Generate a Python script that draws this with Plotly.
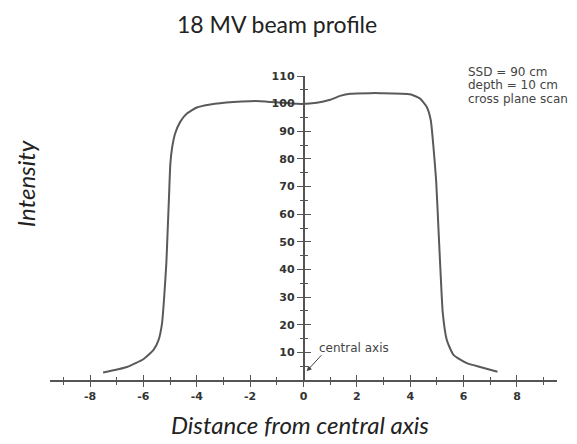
import plotly.graph_objects as go

# Beam profile data (distance in cm, intensity %)
distance = [-7.51, -6.61, -5.99, -5.62, -5.43, -5.30, -5.22, -5.14, -5.09, -5.04,
            -4.99, -4.92, -4.81, -4.62, -4.37, -4.00, -3.49, -2.62, -2.00, -1.62,
            -0.75, -0.06, 0.50, 1.00, 1.37, 1.75, 2.50, 2.87, 4.00, 4.37,
            4.62, 4.77, 4.87, 4.97, 5.06, 5.15, 5.22, 5.37, 5.62, 6.12,
            6.62, 7.27]
intensity = [2.7, 4.7, 7.6, 10.9, 14.5, 20.6, 30.2, 42.2, 54.3, 66.3,
             78.3, 84.3, 89.2, 93.4, 96.4, 98.6, 99.7, 100.6, 100.9, 100.9,
             100.3, 99.9, 100.3, 101.4, 102.8, 103.6, 103.8, 103.8, 103.4, 101.8,
             98.8, 94.0, 84.3, 72.3, 54.3, 36.2, 24.2, 14.5, 9.1, 6.1,
             4.7, 3.0]

x_ticks = [-8, -6, -4, -2, 0, 2, 4, 6, 8]
x_tick_labels = ["-8", "-6", "-4", "-2", "0", "2", "4", "6", "8"]
x_minor = list(range(-9, 10))
y_ticks = [10, 20, 30, 40, 50, 60, 70, 80, 90, 100, 110]
y_minor = [5, 15, 25, 35, 45, 55, 65, 75, 85, 95, 105]
info_lines = ["SSD = 90 cm", "depth = 10 cm", "cross plane scan"]

W, H = 577, 444
ML, MR, MT, MB = 42, 28, 67.6, 71.7
PW, PH = W - ML - MR, H - MT - MB


def px(xp):
    return (xp - ML) / PW


def py(yp):
    return (H - MB - yp) / PH


AX = "#555555"
tickfont = dict(family="DejaVu Sans", size=11, color="#333333", weight="bold")

fig = go.Figure()
fig.add_trace(go.Scatter(x=distance, y=intensity, mode="lines",
                         line=dict(color="#5a5a5a", width=2, shape="spline", smoothing=0.5),
                         showlegend=False, hoverinfo="skip"))
fig.add_trace(go.Scatter(x=[None], y=[None], xaxis="x2", yaxis="y2",
                         showlegend=False, hoverinfo="skip"))

common_x = dict(range=[-9.5, 9.5], showgrid=False, zeroline=False)
common_y = dict(range=[0, 110], showgrid=False, zeroline=False)

fig.update_layout(
    width=W, height=H,
    margin=dict(l=ML, r=MR, t=MT, b=MB),
    paper_bgcolor="white", plot_bgcolor="white",
    xaxis=dict(**common_x, showline=True, linecolor=AX, linewidth=1.5,
               ticks="outside", ticklen=5, tickwidth=1, tickcolor=AX,
               tickmode="array", tickvals=x_ticks, ticktext=x_tick_labels,
               tickfont=tickfont,
               minor=dict(tickmode="array", tickvals=x_minor, ticks="outside",
                          ticklen=3, tickcolor=AX, tickwidth=1)),
    xaxis2=dict(**common_x, overlaying="x", anchor="y", showline=False,
                ticks="inside", ticklen=5, tickwidth=1, tickcolor=AX,
                tickmode="array", tickvals=x_ticks, showticklabels=False,
                minor=dict(tickmode="array", tickvals=x_minor, ticks="inside",
                           ticklen=3, tickcolor=AX, tickwidth=1)),
    yaxis=dict(**common_y, anchor="free", position=0.5, showline=True,
               linecolor=AX, linewidth=1.5,
               ticks="outside", ticklen=6, tickwidth=1, tickcolor=AX,
               tickmode="array", tickvals=y_ticks, tickfont=tickfont,
               minor=dict(tickmode="array", tickvals=y_minor, ticks="outside",
                          ticklen=3, tickcolor=AX, tickwidth=1)),
    yaxis2=dict(**common_y, overlaying="y", anchor="free", position=0.5,
                showline=False, ticks="inside", ticklen=6, tickwidth=1,
                tickcolor=AX, tickmode="array", tickvals=y_ticks,
                showticklabels=False,
                minor=dict(tickmode="array", tickvals=y_minor, ticks="inside",
                           ticklen=3, tickcolor=AX, tickwidth=1)),
)

ann = []
# title
ann.append(dict(text="18 MV beam profile", xref="paper", yref="paper",
                x=px(269), y=py(15), showarrow=False,
                xanchor="center", yanchor="middle",
                font=dict(family="Lato", size=23, color="#222222")))
# axis titles
ann.append(dict(text="<i>Distance from central axis</i>", xref="paper", yref="paper",
                x=px(292), y=py(417), showarrow=False,
                xanchor="center", yanchor="middle",
                font=dict(family="Lato", size=24, color="#222222")))
ann.append(dict(text="<i>Intensity</i>", xref="paper", yref="paper",
                x=px(17), y=py(176), showarrow=False,
                xanchor="center", yanchor="middle", textangle=-90,
                font=dict(family="Lato", size=24, color="#222222")))
# info text
for i, line in enumerate(info_lines):
    ann.append(dict(text=line, xref="paper", yref="paper",
                    x=px(458), y=py(63.5 + 13.5 * i),
                    showarrow=False, xanchor="left", yanchor="middle",
                    font=dict(family="DejaVu Sans", size=12, color="#444444")))
# central axis label and arrow
ann.append(dict(text="central axis", x=0.5, y=11.7, xref="x", yref="y",
                showarrow=False, xanchor="left", yanchor="middle",
                font=dict(family="DejaVu Sans", size=12, color="#444444")))
ann.append(dict(text="", x=0.12, y=3.2, ax=0.72, ay=9.5, xref="x", yref="y",
                axref="x", ayref="y", showarrow=True, arrowhead=2, arrowsize=1,
                arrowwidth=1, arrowcolor="#444444"))
fig.update_layout(annotations=ann)

fig.write_html("out.html")
